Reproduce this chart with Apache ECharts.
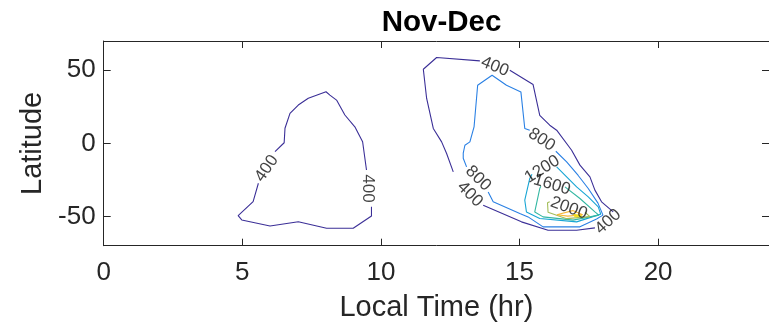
<!DOCTYPE html>
<html>
<head>
<meta charset="utf-8">
<script src="https://cdn.jsdelivr.net/npm/echarts@6/dist/echarts.min.js"></script>
<style>
  html, body { margin: 0; padding: 0; background: #fff; }
  #chart { width: 769px; height: 330px; }
</style>
</head>
<body>
<div id="chart"></div>
<script>
// Axis ticks
const xTicks = [0, 5, 10, 15, 20];
const yTicks = [-50, 0, 50];

// Contour levels drawn
const levels = [400, 800, 1200, 1600, 2000, 2400, 2800];

// Contour paths [local time (hr), latitude]; each path runs between label gaps
const c400WestA = [[6.18,-5.7],[6.51,0.4],[6.54,10.3],[6.72,20.5],[7.02,26.2],[7.38,30.8],[8.02,35.3],[8.16,33.0],[8.40,29.6],[8.70,19.4],[9.06,11.3],[9.34,1.1],[9.48,-18.2]];
const c400WestB = [[9.66,-43.3],[9.66,-49.7],[9.00,-58.1],[8.04,-58.1],[7.02,-53.6],[6.00,-56.5],[4.98,-52.4],[4.85,-49.4],[5.39,-39.9],[5.58,-27.3]];

const c400EastA = [[14.65,50.0],[15.49,40.2],[15.73,19.2],[16.09,12.4],[16.34,9.0],[16.88,-4.7],[17.18,-14.9],[17.54,-22.9],[17.72,-32.0],[17.96,-40.0],[18.38,-46.9]];
const c400EastB = [[17.72,-57.8],[17.06,-59.4],[16.03,-59.4],[15.07,-53.7],[13.69,-42.3]];
const c400EastC = [[12.61,-19.5],[12.37,-6.9],[12.19,1.0],[11.89,10.2],[11.65,30.7],[11.53,50.7],[12.01,58.7],[13.57,56.4]];

const c800A = [[16.31,-5.4],[16.70,-12.7],[17.11,-21.8],[17.48,-30.9],[17.83,-40.9],[18.01,-49.1],[17.78,-51.8],[17.18,-57.1],[15.85,-57.1],[15.31,-50.3],[15.01,-47.9],[14.05,-40.0],[13.87,-33.2]];
const c800B = [[13.09,-16.1],[12.97,-10.2],[12.97,-6.7],[13.03,-1.3],[13.21,1.0],[13.36,11.2],[13.49,39.7],[14.01,46.6],[14.53,39.7],[15.05,35.2],[15.19,10.2],[15.37,9.0]];

const c1200 = [[16.34,-16.1],[17.06,-29.8],[17.48,-36.6],[17.84,-43.4],[17.93,-48.4],[17.06,-53.7],[15.73,-51.4],[15.25,-46.9],[15.19,-38.9],[15.37,-24.0],[15.45,-21.1]];
const c1600 = [[16.64,-29.8],[17.18,-37.7],[17.72,-46.9],[17.86,-49.1],[16.93,-52.5],[15.85,-50.3],[15.55,-46.9],[15.73,-30.9],[15.77,-29.3]];
const c2000 = [[17.36,-47.1],[17.54,-50.1],[16.70,-51.5],[16.03,-47.1],[16.01,-40.7],[16.09,-40.0]];
const c2400 = [[16.35,-48.8],[16.92,-46.0],[17.28,-48.8],[16.74,-49.8],[16.35,-48.8]];
const c2800 = [[16.95,-48.6],[17.25,-49.6],[17.00,-50.1],[16.95,-48.6]];

// In-line contour labels
const labelX = [5.88, 9.54, 14.11, 13.21, 18.20, 15.80, 13.51, 15.82, 16.17, 16.78];
const labelY = [-17.2, -30.9, 52.4, -34.8, -53.6, 2.5, -24.0, -17.7, -28.3, -44.3];
const labelLevel = [400, 400, 400, 400, 400, 800, 800, 1200, 1600, 2000];
const labelAngle = [55, -90, -22, -45, 42, -33, -45, 32, -17, -20];

const paths = [
  [400, c400WestA], [400, c400WestB],
  [400, c400EastA], [400, c400EastB], [400, c400EastC],
  [800, c800A], [800, c800B],
  [1200, c1200], [1600, c1600], [2000, c2000], [2400, c2400], [2800, c2800]
];

// parula-like colours per level
const palette = ['#3b2f97', '#2a80e4', '#17a5d4', '#33b7a2', '#a3bd58', '#f6b837', '#f4e21f'];
const colorOf = lv => palette[levels.indexOf(lv)];

const FONT = '"Liberation Sans", Arial, Helvetica, sans-serif';
const INK = '#262626';

const series = paths.map(([lv, pts]) => ({
  type: 'line',
  data: pts,
  showSymbol: false,
  symbol: 'none',
  silent: true,
  lineStyle: { color: colorOf(lv), width: 1.1 },
  z: 2
}));

series.push({
  type: 'scatter',
  symbolSize: 0,
  silent: true,
  z: 5,
  data: labelX.map((x, i) => ({
    value: [x, labelY[i]],
    label: {
      show: true,
      position: 'inside',
      formatter: String(labelLevel[i]),
      rotate: labelAngle[i],
      fontSize: 17,
      fontFamily: FONT,
      color: '#111'
    }
  }))
});

const axisLineStyle = { show: true, onZero: false, lineStyle: { color: INK, width: 1 } };
const tickStyle = ticks => ({ show: true, inside: true, length: 7, customValues: ticks, lineStyle: { color: INK } });

const chart = echarts.init(document.getElementById('chart'), null, { renderer: 'canvas' });
chart.setOption({
  animation: false,
  backgroundColor: '#fff',
  title: {
    text: 'Nov-Dec',
    left: 436.5,
    textAlign: 'center',
    top: 3,
    textStyle: { fontSize: 29.5, fontWeight: 'bold', fontFamily: FONT, color: '#000', lineHeight: 29.5 }
  },
  grid: { left: 103.7, top: 41, width: 665.5, height: 204.7, containLabel: false },
  xAxis: [
    {
      type: 'value', min: 0, max: 24, position: 'bottom',
      name: 'Local Time (hr)', nameLocation: 'middle', nameGap: 48,
      nameTextStyle: { fontSize: 29, fontFamily: FONT, color: INK, lineHeight: 29 },
      axisLine: axisLineStyle,
      axisTick: tickStyle(xTicks),
      axisLabel: { customValues: xTicks, fontSize: 26, fontFamily: FONT, color: INK, margin: 14, lineHeight: 26 },
      splitLine: { show: false }
    },
    {
      type: 'value', min: 0, max: 24, position: 'top',
      axisLine: axisLineStyle,
      axisTick: tickStyle(xTicks),
      axisLabel: { show: false },
      splitLine: { show: false }
    }
  ],
  yAxis: [
    {
      type: 'value', min: -70, max: 70, position: 'left',
      name: 'Latitude', nameLocation: 'middle', nameGap: 54,
      nameTextStyle: { fontSize: 29, fontFamily: FONT, color: INK, lineHeight: 29 },
      axisLine: axisLineStyle,
      axisTick: tickStyle(yTicks),
      axisLabel: { customValues: yTicks, fontSize: 26, fontFamily: FONT, color: INK, margin: 8 },
      splitLine: { show: false }
    },
    {
      type: 'value', min: -70, max: 70, position: 'right',
      axisLine: axisLineStyle,
      axisTick: tickStyle(yTicks),
      axisLabel: { show: false },
      splitLine: { show: false }
    }
  ],
  series: series
});
</script>
</body>
</html>
